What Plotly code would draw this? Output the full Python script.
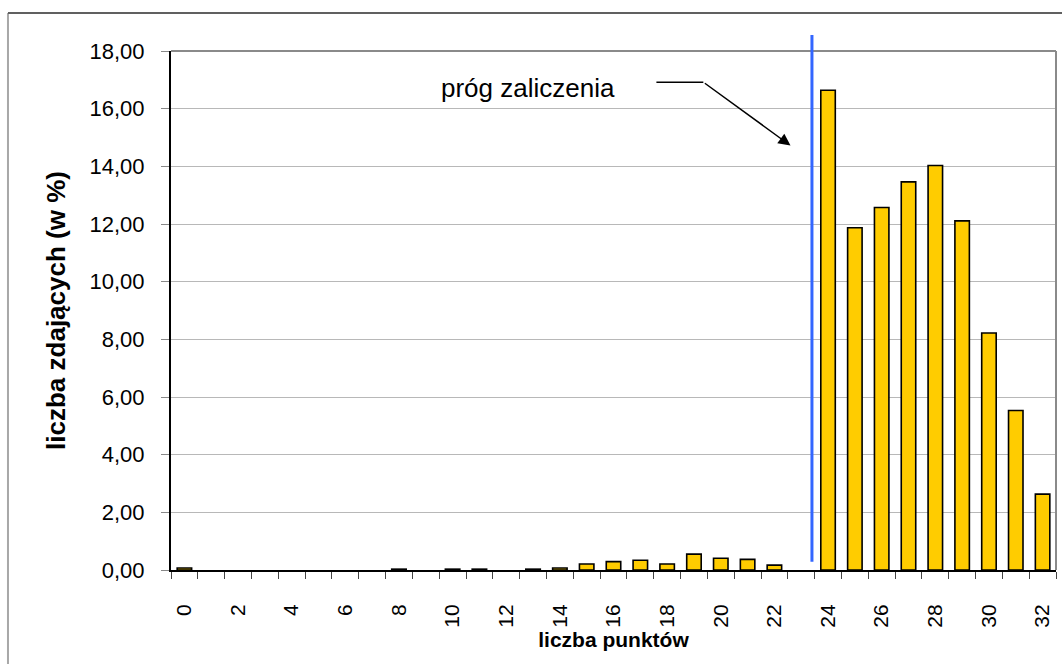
import plotly.graph_objects as go

# ---- data ----
points = list(range(0, 33))
percent = [0.07, 0, 0, 0, 0, 0, 0, 0, 0.03, 0, 0.03, 0.03, 0, 0.03, 0.07,
           0.21, 0.29, 0.34, 0.21, 0.55, 0.41, 0.37, 0.17, 0,
           16.64, 11.87, 12.57, 13.46, 14.03, 12.11, 8.22, 5.53, 2.63]
x_tick_vals = list(range(0, 33, 2))
y_tick_vals = list(range(0, 19, 2))
threshold_x = 23.4
label_text = "próg zaliczenia"

FONT = "Liberation Sans, Arial, sans-serif"

bar_values = [v if v > 0 else None for v in percent]

fig = go.Figure()
fig.add_trace(go.Bar(
    x=points, y=bar_values, width=0.54,
    marker=dict(color="#FFCC00", line=dict(color="black", width=1.6)),
    showlegend=False, hoverinfo="x+y",
))

fig.update_layout(
    width=1062, height=664,
    margin=dict(l=171, r=6, t=51, b=94),
    paper_bgcolor="white", plot_bgcolor="white",
    separators=", ",
    font=dict(family=FONT, color="black"),
)

fig.update_xaxes(
    range=[-0.5, 32.5],
    tickmode="array", tickvals=x_tick_vals, ticktext=[str(v) for v in x_tick_vals],
    tickangle=-90, tickfont=dict(size=21),
    ticks="outside", ticklen=24, tickcolor="rgba(0,0,0,0)",
    minor=dict(tick0=0.5, dtick=1, ticks="outside", ticklen=7, tickcolor="#444", tickwidth=1, showgrid=False),
    showline=True, linecolor="black", linewidth=2,
    showgrid=False, zeroline=False,
    title=dict(text="<b>liczba punktów</b>", font=dict(size=21), standoff=0),
)

fig.update_yaxes(
    range=[0, 18],
    tickmode="array", tickvals=y_tick_vals, tickformat=".2f",
    tickfont=dict(size=22),
    ticks="outside", ticklen=8, tickcolor="#888", tickwidth=1,
    ticklabelstandoff=12,
    showline=True, linecolor="black", linewidth=2,
    showgrid=True, gridcolor="#b8b8b8", gridwidth=1, zeroline=False,
    title=dict(text="<b>liczba zdających (w %)</b>", font=dict(size=26), standoff=16),
)

# plot area top & right border (gray)
fig.add_shape(type="line", xref="paper", yref="paper", x0=0, x1=1, y0=1, y1=1,
              line=dict(color="#8a8a8a", width=2))
fig.add_shape(type="line", xref="paper", yref="paper", x0=1, x1=1, y0=0, y1=1,
              line=dict(color="#8a8a8a", width=2))

# outer chart border (left and top visible)
fig.add_shape(type="line", xref="paper", yref="paper", x0=-0.1842, x1=-0.1842, y0=-0.3, y1=1.0732,
              line=dict(color="#a8a8a8", width=2))
fig.add_shape(type="line", xref="paper", yref="paper", x0=-0.1842, x1=1.05, y0=1.0732, y1=1.0732,
              line=dict(color="#606060", width=2))

# threshold line
fig.add_shape(type="line", xref="x", yref="paper", x0=threshold_x, x1=threshold_x,
              y0=0.016, y1=1.031, line=dict(color="#3366FF", width=3))

# annotation with arrow
fig.add_shape(type="line", xref="x", yref="y", x0=17.6, x1=19.35, y0=16.92, y1=16.92,
              line=dict(color="black", width=1.5))
fig.add_annotation(x=22.6, y=14.72, ax=19.35, ay=16.92, axref="x", ayref="y",
                   xref="x", yref="y", text="", showarrow=True,
                   arrowhead=2, arrowsize=1.6, arrowwidth=1.5, arrowcolor="black")
fig.add_annotation(x=12.8, y=16.72, xref="x", yref="y", text=label_text, showarrow=False,
                   font=dict(size=26, color="black", family=FONT))

fig.write_html("out.html", config={"displayModeBar": False},
               post_script="document.body.style.margin='0';document.body.style.overflow='hidden';")
